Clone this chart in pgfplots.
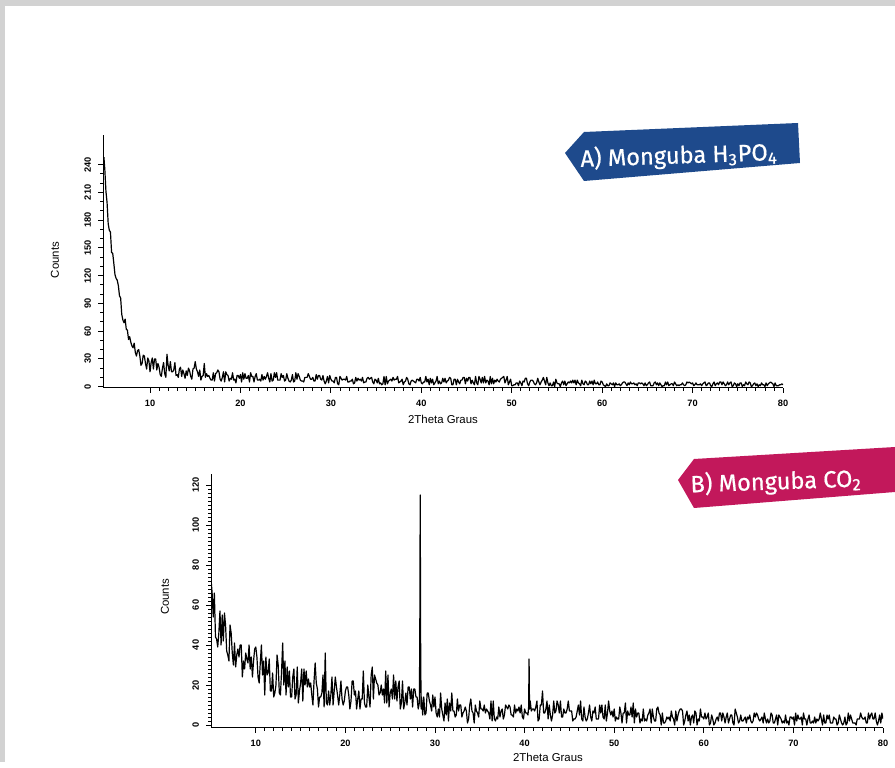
\documentclass[border=0pt]{standalone}
\usepackage{pgfplots}
\pgfplotsset{compat=1.18}
\usepackage{fontspec}
\setmainfont{Liberation Sans}
\newfontfamily\bannerfont{Fira Sans}[FakeBold=0.6]
\definecolor{bannerA}{HTML}{1E4A8C}
\definecolor{bannerB}{HTML}{C2185B}
\definecolor{framegray}{HTML}{D2D2D2}

\pgfplotsset{
  xrd/.style={
    scale only axis,
    axis lines=left,
    axis line style={-, line width=0.5pt},
    tick align=outside,
    tick style={black, line width=0.4pt},
    major tick length=2.5pt,
    minor tick length=1.5pt,
    xtick={10,20,...,80},
    minor x tick num=9,
    xticklabel style={font=\fontsize{4.6}{5}\selectfont\bfseries},
    yticklabel style={font=\fontsize{4.6}{5}\selectfont\bfseries, rotate=90, anchor=south},
    /pgf/number format/assume math mode=true,
    label style={font=\fontsize{5.7}{6}\selectfont},
    xlabel={2Theta Graus},
    ylabel={Counts},
  },
  xrdline/.style={black, line width=0.6pt, line join=round, mark=none},
}

\begin{document}
\begin{tikzpicture}
% page frame
\fill[framegray] (0,0) rectangle (447.5pt,381pt);
\fill[white] (2.5pt,0) rectangle (447.5pt,378pt);

% A) Monguba H3PO4
\begin{axis}[xrd,
  at={(51.5pt,187pt)}, anchor=south west,
  width=340pt, height=126.5pt,
  xmin=4.8, xmax=80, ymin=-1.5, ymax=272,
  ytick={0,30,...,240}, minor y tick num=2,
  xlabel style={at={(axis description cs:0.5,-0.1225)}, anchor=center},
  ylabel style={at={(axis description cs:-0.0706,0.506)}, anchor=center},
]
\addplot[xrdline] coordinates {
(4.9,248)
(5,235)(5.125,211)(5.25,199)(5.375,176)(5.5,169)(5.625,167)(5.75,145)(5.875,144)(6,133)(6.125,121)
(6.25,117)(6.375,115)(6.5,109)(6.625,98)(6.75,96)(6.875,78)(7,72)(7.125,69)(7.25,73)(7.375,62)
(7.5,61)(7.625,51)(7.75,54)(7.875,48)(8,44)(8.125,42)(8.25,47)(8.375,37)(8.5,33)(8.625,39)
(8.75,40)(8.875,33)(9,23)(9.125,25)(9.25,34)(9.375,33)(9.5,25)(9.625,19)(9.75,31)(9.875,28)
(10,16)(10.125,26)(10.25,31)(10.375,19)(10.5,30)(10.625,30)(10.75,18)(10.875,25)(11,21)(11.125,13)
(11.25,11)(11.375,20)(11.5,26)(11.625,14)(11.75,10)(11.875,35)(12,23)(12.125,17)(12.25,27)(12.375,16)
(12.5,16)(12.625,18)(12.75,26)(12.875,12)(13,13)(13.125,10)(13.25,19)(13.375,21)(13.5,11)(13.625,18)
(13.75,14)(13.875,9)(14,17)(14.125,12)(14.25,20)(14.375,17)(14.5,11)(14.625,8)(14.75,19)(14.875,20)
(15,27)(15.125,19)(15.25,16)(15.375,11)(15.5,18)(15.625,7)(15.75,11)(15.875,12)(16,25)(16.125,10)
(16.25,14)(16.375,11)(16.5,12)(16.625,9)(16.75,7)(16.875,7)(17,15)(17.125,6)(17.25,14)(17.375,15)
(17.5,18)(17.625,16)(17.75,8)(17.875,6)(18,10)(18.125,16)(18.25,5)(18.375,16)(18.5,13)(18.625,12)
(18.75,6)(18.875,9)(19,8)(19.125,15)(19.25,7)(19.375,8)(19.5,4)(19.625,12)(19.75,12)(19.875,9)
(20,13)(20.125,5)(20.25,15)(20.375,8)(20.5,14)(20.625,9)(20.75,9)(20.875,12)(21,5)(21.125,15)
(21.25,11)(21.375,11)(21.5,5)(21.625,11)(21.75,14)(21.875,7)(22,7)(22.125,8)(22.25,6)(22.375,13)
(22.5,7)(22.625,11)(22.75,8)(22.875,11)(23,15)(23.125,9)(23.25,5)(23.375,14)(23.5,6)(23.625,7)
(23.75,15)(23.875,10)(24,15)(24.125,7)(24.25,7)(24.375,7)(24.5,14)(24.625,10)(24.75,12)(24.875,6)
(25,7)(25.125,14)(25.25,9)(25.375,6)(25.5,5)(25.625,7)(25.75,13)(25.875,5)(26,6)(26.125,15)
(26.25,8)(26.375,14)(26.5,11)(26.625,7)(26.75,6)(26.875,6)(27,5)(27.125,10)(27.25,10)(27.375,10)
(27.5,14)(27.625,11)(27.75,8)(27.875,8)(28,10)(28.125,6)(28.25,6)(28.375,13)(28.5,8)(28.625,12)
(28.75,12)(28.875,8)(29,7)(29.125,12)(29.25,6)(29.375,3)(29.5,6)(29.625,11)(29.75,4)(29.875,12)
(30,8)(30.125,6)(30.25,6)(30.375,4)(30.5,10)(30.625,10)(30.75,3)(30.875,2)(31,11)(31.125,9)
(31.25,7)(31.375,8)(31.5,8)(31.625,7)(31.75,11)(31.875,5)(32,5)(32.125,6)(32.25,6)(32.375,8)
(32.5,3)(32.625,4)(32.75,10)(32.875,6)(33,9)(33.125,7)(33.25,8)(33.375,6)(33.5,10)(33.625,4)
(33.75,5)(33.875,5)(34,9)(34.125,10)(34.25,8)(34.375,9)(34.5,10)(34.625,5)(34.75,3)(34.875,8)
(35,7)(35.125,4)(35.25,9)(35.375,3)(35.5,4)(35.625,2)(35.75,3)(35.875,11)(36,2)(36.125,11)
(36.25,3)(36.375,6)(36.5,7)(36.625,8)(36.75,6)(36.875,10)(37,7)(37.125,8)(37.25,8)(37.375,11)
(37.5,4)(37.625,5)(37.75,6)(37.875,8)(38,2)(38.125,5)(38.25,6)(38.375,10)(38.5,8)(38.625,3)
(38.75,2)(38.875,6)(39,7)(39.125,6)(39.25,5)(39.375,4)(39.5,8)(39.625,8)(39.75,6)(39.875,10)
(40,4)(40.125,3)(40.25,5)(40.375,5)(40.5,11)(40.625,5)(40.75,8)(40.875,2)(41,9)(41.125,4)
(41.25,8)(41.375,2)(41.5,4)(41.625,6)(41.75,11)(41.875,3)(42,6)(42.125,3)(42.25,4)(42.375,9)
(42.5,5)(42.625,9)(42.75,4)(42.875,6)(43,7)(43.125,10)(43.25,9)(43.375,2)(43.5,2)(43.625,8)
(43.75,8)(43.875,2)(44,8)(44.125,5)(44.25,3)(44.375,7)(44.5,7)(44.625,10)(44.75,10)(44.875,3)
(45,9)(45.125,6)(45.25,10)(45.375,10)(45.5,3)(45.625,7)(45.75,4)(45.875,2)(46,11)(46.125,4)
(46.25,2)(46.375,11)(46.5,8)(46.625,4)(46.75,10)(46.875,4)(47,11)(47.125,4)(47.25,7)(47.375,6)
(47.5,2)(47.625,11)(47.75,3)(47.875,9)(48,3)(48.125,7)(48.25,5)(48.375,8)(48.5,6)(48.625,5)
(48.75,8)(48.875,9)(49,10)(49.125,11)(49.25,4)(49.375,7)(49.5,11)(49.625,2)(49.75,5)(49.875,8)
(50,1)(50.125,1)(50.25,2)(50.375,2)(50.5,4)(50.625,4)(50.75,1)(50.875,6)(51,4)(51.125,1)
(51.25,6)(51.375,5)(51.5,9)(51.625,9)(51.75,3)(51.875,1)(52,5)(52.125,7)(52.25,7)(52.375,6)
(52.5,3)(52.625,2)(52.75,4)(52.875,9)(53,5)(53.125,2)(53.25,5)(53.375,7)(53.5,10)(53.625,6)
(53.75,2)(53.875,10)(54,4)(54.125,1)(54.25,4)(54.375,1)(54.5,1)(54.625,5)(54.75,0)(54.875,8)
(55,4)(55.125,3)(55.25,3)(55.375,0)(55.5,4)(55.625,6)(55.75,2)(55.875,6)(56,1)(56.125,3)
(56.25,5)(56.375,4)(56.5,6)(56.625,4)(56.75,7)(56.875,4)(57,7)(57.125,2)(57.25,7)(57.375,4)
(57.5,3)(57.625,1)(57.75,7)(57.875,3)(58,2)(58.125,6)(58.25,5)(58.375,2)(58.5,2)(58.625,6)
(58.75,3)(58.875,6)(59,2)(59.125,7)(59.25,3)(59.375,3)(59.5,5)(59.625,2)(59.75,2)(59.875,6)
(60,5)(60.125,2)(60.25,1)(60.375,0)(60.5,3)(60.625,1)(60.75,1)(60.875,4)(61,3)(61.125,2)
(61.25,4)(61.375,0)(61.5,4)(61.625,2)(61.75,2)(61.875,3)(62,1)(62.125,2)(62.25,4)(62.375,5)
(62.5,5)(62.625,3)(62.75,1)(62.875,4)(63,2)(63.125,5)(63.25,3)(63.375,3)(63.5,4)(63.625,2)
(63.75,3)(63.875,1)(64,4)(64.125,4)(64.25,3)(64.375,4)(64.5,3)(64.625,1)(64.75,4)(64.875,1)
(65,2)(65.125,4)(65.25,5)(65.375,1)(65.5,1)(65.625,1)(65.75,4)(65.875,5)(66,2)(66.125,4)
(66.25,1)(66.375,4)(66.5,2)(66.625,0)(66.75,1)(66.875,1)(67,5)(67.125,2)(67.25,5)(67.375,1)
(67.5,2)(67.625,3)(67.75,3)(67.875,1)(68,5)(68.125,3)(68.25,1)(68.375,2)(68.5,1)(68.625,2)
(68.75,2)(68.875,4)(69,2)(69.125,1)(69.25,2)(69.375,5)(69.5,4)(69.625,5)(69.75,4)(69.875,3)
(70,4)(70.125,1)(70.25,2)(70.375,4)(70.5,2)(70.625,2)(70.75,2)(70.875,3)(71,1)(71.125,3)
(71.25,4)(71.375,5)(71.5,1)(71.625,2)(71.75,4)(71.875,4)(72,1)(72.125,0)(72.25,3)(72.375,5)
(72.5,1)(72.625,3)(72.75,4)(72.875,2)(73,5)(73.125,5)(73.25,2)(73.375,5)(73.5,3)(73.625,1)
(73.75,2)(73.875,5)(74,2)(74.125,4)(74.25,5)(74.375,0)(74.5,1)(74.625,4)(74.75,3)(74.875,0)
(75,3)(75.125,1)(75.25,4)(75.375,4)(75.5,0)(75.625,2)(75.75,1)(75.875,5)(76,3)(76.125,2)
(76.25,5)(76.375,4)(76.5,0)(76.625,1)(76.75,3)(76.875,4)(77,1)(77.125,3)(77.25,0)(77.375,2)
(77.5,1)(77.625,4)(77.75,2)(77.875,2)(78,0)(78.125,4)(78.25,1)(78.375,3)(78.5,4)(78.625,5)
(78.75,4)(78.875,3)(79,0)(79.125,4)(79.25,1)(79.375,1)(79.5,1)(79.625,2)(79.75,2)(79.875,3)
(80,2)
};
\end{axis}

% B) Monguba CO2
\begin{axis}[xrd,
  at={(105.5pt,17pt)}, anchor=south west,
  width=336pt, height=127pt,
  xmin=5, xmax=80, ymin=-1.5, ymax=125.5,
  ytick={0,20,...,120}, minor y tick num=9,
  xlabel style={at={(axis description cs:0.5015,-0.114)}, anchor=center},
  ylabel style={at={(axis description cs:-0.0685,0.516)}, anchor=center},
]
\addplot[xrdline] coordinates {
(5,73)(5.125,66)(5.25,54)(5.375,66)(5.5,44)(5.625,43)(5.75,39)(5.875,46)(6,57)(6.125,40)
(6.25,55)(6.375,42)(6.5,56)(6.625,50)(6.75,37)(6.875,35)(7,32)(7.125,50)(7.25,46)(7.375,36)
(7.5,30)(7.625,41)(7.75,29)(7.875,35)(8,38)(8.125,34)(8.25,40)(8.375,40)(8.5,24)(8.625,32)
(8.75,28)(8.875,36)(9,33)(9.125,31)(9.25,40)(9.375,28)(9.5,34)(9.625,24)(9.75,32)(9.875,38)
(10,39)(10.125,34)(10.25,24)(10.375,21)(10.5,31)(10.625,40)(10.75,25)(10.875,32)(11,15)(11.125,34)
(11.25,25)(11.375,26)(11.5,33)(11.625,17)(11.75,17)(11.875,26)(12,14)(12.125,16)(12.25,20)(12.375,35)
(12.5,30)(12.625,16)(12.75,15)(12.875,27)(13,41)(13.125,20)(13.25,32)(13.375,15)(13.5,29)(13.625,19)
(13.75,27)(13.875,14)(14,14)(14.125,24)(14.25,28)(14.375,13)(14.5,15)(14.625,29)(14.75,11)(14.875,17)
(15,21)(15.125,28)(15.25,12)(15.375,28)(15.5,20)(15.625,27)(15.75,19)(15.875,23)(16,19)(16.125,21)
(16.25,15)(16.375,10)(16.5,22)(16.625,31)(16.75,21)(16.875,18)(17,9)(17.125,14)(17.25,14)(17.375,16)
(17.5,25)(17.625,9)(17.75,36)(17.875,11)(18,10)(18.125,17)(18.25,10)(18.375,15)(18.5,24)(18.625,10)
(18.75,17)(18.875,24)(19,19)(19.125,15)(19.25,10)(19.375,15)(19.5,22)(19.625,13)(19.75,10)(19.875,12)
(20,17)(20.125,19)(20.25,19)(20.375,15)(20.5,8)(20.625,12)(20.75,22)(20.875,22)(21,15)(21.125,17)
(21.25,8)(21.375,13)(21.5,17)(21.625,8)(21.75,13)(21.875,13)(22,27)(22.125,11)(22.25,9)(22.375,9)
(22.5,20)(22.625,14)(22.75,9)(22.875,25)(23,29)(23.125,13)(23.25,25)(23.375,23)(23.5,21)(23.625,20)
(23.75,15)(23.875,16)(24,20)(24.125,15)(24.25,18)(24.375,11)(24.5,27)(24.625,11)(24.75,25)(24.875,9)
(25,16)(25.125,18)(25.25,13)(25.375,25)(25.5,13)(25.625,22)(25.75,12)(25.875,19)(26,22)(26.125,8)
(26.25,11)(26.375,22)(26.5,8)(26.625,11)(26.75,16)(26.875,10)(27,19)(27.125,19)(27.25,13)(27.375,18)
(27.5,9)(27.625,18)(27.75,18)(27.875,14)(28,14)(28.125,8)(28.25,11)(28.3,40)(28.35,115)(28.4,38)
(28.45,8)(28.5,14)(28.625,5)
(28.75,14)(28.875,5)(29,6)(29.125,16)(29.25,16)(29.375,12)(29.5,10)(29.625,7)(29.75,15)(29.875,9)
(30,14)(30.125,6)(30.25,4)(30.375,8)(30.5,4)(30.625,16)(30.75,8)(30.875,5)(31,2)(31.125,11)
(31.25,5)(31.375,13)(31.5,2)(31.625,11)(31.75,7)(31.875,16)(32,7)(32.125,7)(32.25,4)(32.375,5)
(32.5,13)(32.625,7)(32.75,10)(32.875,10)(33,4)(33.125,6)(33.25,7)(33.375,9)(33.5,7)(33.625,1)
(33.75,3)(33.875,10)(34,13)(34.125,7)(34.25,6)(34.375,1)(34.5,10)(34.625,7)(34.75,6)(34.875,4)
(35,12)(35.125,8)(35.25,8)(35.375,7)(35.5,10)(35.625,6)(35.75,8)(35.875,7)(36,6)(36.125,3)
(36.25,12)(36.375,2)(36.5,12)(36.625,3)(36.75,2)(36.875,4)(37,3)(37.125,9)(37.25,4)(37.375,7)
(37.5,8)(37.625,3)(37.75,5)(37.875,10)(38,9)(38.125,8)(38.25,10)(38.375,9)(38.5,5)(38.625,5)
(38.75,4)(38.875,10)(39,6)(39.125,8)(39.25,7)(39.375,9)(39.5,6)(39.625,10)(39.75,4)(39.875,3)
(40,8)(40.125,6)(40.25,6)(40.375,5)(40.45,9)(40.5,33)(40.55,8)(40.625,12)(40.75,7)(40.875,8)
(41,8)(41.125,7)
(41.25,9)(41.375,12)(41.5,2)(41.625,3)(41.75,10)(41.875,10)(42,17)(42.125,6)(42.25,6)(42.375,8)
(42.5,12)(42.625,3)(42.75,10)(42.875,5)(43,2)(43.125,5)(43.25,12)(43.375,6)(43.5,7)(43.625,12)
(43.75,10)(43.875,6)(44,12)(44.125,4)(44.25,4)(44.375,8)(44.5,6)(44.625,6)(44.75,8)(44.875,12)
(45,7)(45.125,7)(45.25,7)(45.375,2)(45.5,3)(45.625,3)(45.75,4)(45.875,7)(46,10)(46.125,5)
(46.25,12)(46.375,3)(46.5,2)(46.625,9)(46.75,4)(46.875,2)(47,3)(47.125,6)(47.25,10)(47.375,4)
(47.5,2)(47.625,7)(47.75,6)(47.875,9)(48,3)(48.125,3)(48.25,3)(48.375,10)(48.5,6)(48.625,10)
(48.75,4)(48.875,3)(49,10)(49.125,2)(49.25,6)(49.375,12)(49.5,7)(49.625,5)(49.75,7)(49.875,4)
(50,8)(50.125,2)(50.25,4)(50.375,3)(50.5,3)(50.625,9)(50.75,6)(50.875,1)(51,6)(51.125,6)
(51.25,11)(51.375,1)(51.5,7)(51.625,5)(51.75,5)(51.875,9)(52,4)(52.125,11)(52.25,1)(52.375,8)
(52.5,4)(52.625,6)(52.75,6)(52.875,1)(53,3)(53.125,2)(53.25,8)(53.375,2)(53.5,3)(53.625,2)
(53.75,5)(53.875,6)(54,8)(54.125,1)(54.25,8)(54.375,4)(54.5,2)(54.625,2)(54.75,8)(54.875,9)
(55,6)(55.125,5)(55.25,0)(55.375,6)(55.5,1)(55.625,1)(55.75,2)(55.875,4)(56,3)(56.125,4)
(56.25,2)(56.375,7)(56.5,4)(56.625,3)(56.75,0)(56.875,7)(57,2)(57.125,5)(57.25,7)(57.375,8)
(57.5,8)(57.625,7)(57.75,0)(57.875,2)(58,5)(58.125,7)(58.25,2)(58.375,5)(58.5,0)(58.625,4)
(58.75,5)(58.875,1)(59,7)(59.125,6)(59.25,0)(59.375,3)(59.5,2)(59.625,8)(59.75,4)(59.875,4)
(60,3)(60.125,6)(60.25,3)(60.375,4)(60.5,6)(60.625,0)(60.75,1)(60.875,5)(61,3)(61.125,0)
(61.25,1)(61.375,3)(61.5,4)(61.625,2)(61.75,6)(61.875,6)(62,2)(62.125,6)(62.25,4)(62.375,1)
(62.5,4)(62.625,6)(62.75,1)(62.875,3)(63,5)(63.125,5)(63.25,1)(63.375,0)(63.5,8)(63.625,6)
(63.75,4)(63.875,1)(64,2)(64.125,5)(64.25,2)(64.375,2)(64.5,3)(64.625,4)(64.75,1)(64.875,4)
(65,3)(65.125,5)(65.25,2)(65.375,1)(65.5,2)(65.625,6)(65.75,4)(65.875,6)(66,5)(66.125,3)
(66.25,2)(66.375,3)(66.5,4)(66.625,1)(66.75,6)(66.875,3)(67,1)(67.125,3)(67.25,1)(67.375,2)
(67.5,6)(67.625,5)(67.75,1)(67.875,1)(68,3)(68.125,5)(68.25,0)(68.375,5)(68.5,4)(68.625,3)
(68.75,1)(68.875,2)(69,1)(69.125,5)(69.25,1)(69.375,2)(69.5,0)(69.625,4)(69.75,4)(69.875,3)
(70,4)(70.125,0)(70.25,6)(70.375,2)(70.5,5)(70.625,3)(70.75,3)(70.875,4)(71,0)(71.125,6)
(71.25,3)(71.375,3)(71.5,0)(71.625,3)(71.75,5)(71.875,1)(72,1)(72.125,2)(72.25,1)(72.375,4)
(72.5,1)(72.625,3)(72.75,2)(72.875,3)(73,6)(73.125,3)(73.25,0)(73.375,5)(73.5,1)(73.625,1)
(73.75,5)(73.875,3)(74,5)(74.125,1)(74.25,1)(74.375,1)(74.5,4)(74.625,3)(74.75,3)(74.875,0)
(75,1)(75.125,5)(75.25,3)(75.375,1)(75.5,0)(75.625,1)(75.75,4)(75.875,0)(76,1)(76.125,6)
(76.25,2)(76.375,5)(76.5,3)(76.625,1)(76.75,1)(76.875,1)(77,0)(77.125,3)(77.25,3)(77.375,3)
(77.5,6)(77.625,4)(77.75,3)(77.875,3)(78,4)(78.125,1)(78.25,1)(78.375,6)(78.5,3)(78.625,5)
(78.75,6)(78.875,3)(79,3)(79.125,6)(79.25,2)(79.375,0)(79.5,2)(79.625,5)(79.75,1)(79.875,6)
(80,3)
};
\end{axis}

% banners, drawn in image pixel coordinates (y downwards)
\begin{scope}[x=0.5pt, y=-0.5pt, yshift=381pt]
\fill[bannerA] (565,153) -- (584,132) -- (798,123) -- (800,163) -- (584,181) -- cycle;
\node[text=white, rotate=2, font=\bannerfont\fontsize{11.8}{13}\selectfont]
  at (679,156) {A) Monguba H\textsubscript{3}PO\textsubscript{4}};
\fill[bannerB] (678,480) -- (694,459) -- (895,447) -- (895,492) -- (694,508) -- cycle;
\node[text=white, rotate=2, font=\bannerfont\fontsize{11.8}{13}\selectfont]
  at (776,482) {B) Monguba CO\textsubscript{2}};
\end{scope}
\end{tikzpicture}
\end{document}
